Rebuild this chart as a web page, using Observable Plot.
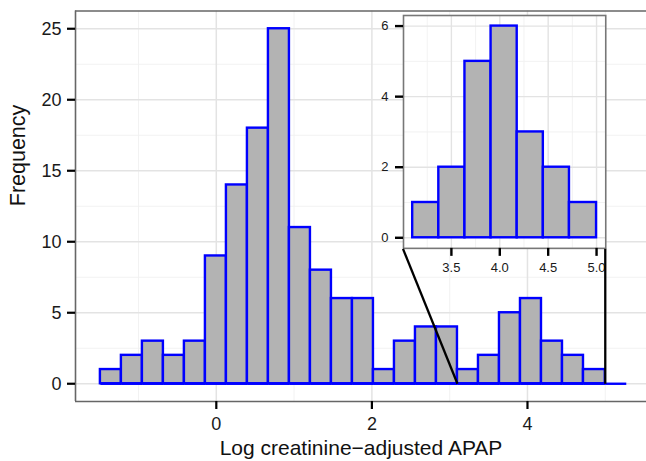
<!DOCTYPE html>
<html><head><meta charset="utf-8">
<script src="https://cdn.jsdelivr.net/npm/d3@7"></script>
<script src="https://cdn.jsdelivr.net/npm/@observablehq/plot@0.6"></script>
<style>
body{margin:0;background:#fff;}
#chart{position:relative;width:646px;height:461px;overflow:hidden;background:#fff;}
#chart svg{position:absolute;left:0;top:0;}
</style></head><body><div id="chart"></div>
<script>
// ---- data ----
const binEdges = [-1.49,-1.22,-0.95,-0.68,-0.41,-0.14,0.13,0.40,0.67,0.94,1.21,1.48,1.75,2.02,2.29,2.56,2.83,3.10,3.37,3.64,3.91,4.18,4.45,4.72,5.00,5.27];
const counts   = [1,2,3,2,3,9,14,18,25,11,8,6,6,1,3,4,4,1,2,5,6,3,2,1,0];
const xTicks = [0, 2, 4];
const xMinorTicks = [-1, 1, 3, 5];
const yTicks = [0, 5, 10, 15, 20, 25];
const yMinorTicks = [2.5, 7.5, 12.5, 17.5, 22.5];
const zoomRange = [3.10, 5.00];
const insetXTicks = [3.5, 4.0, 4.5, 5.0];
const insetXMinorTicks = [3.25, 3.75, 4.25, 4.75];
const insetYTicks = [0, 2, 4, 6];
const insetYMinorTicks = [1, 3, 5];
const insetXMin = 2.40, insetXMax = 5.00, insetYMin = 9.5, insetYMax = 25.9;
const xTitle = "Log creatinine\u2212adjusted APAP";
const yTitle = "Frequency";

// ---- build ----
const bins = counts.map((c, i) => ({x1: binEdges[i], x2: binEdges[i + 1], count: c}));
const insetBins = bins.filter(d => d.x1 >= zoomRange[0] - 1e-9 && d.x2 <= zoomRange[1] + 1e-9);
const connectors = [
  {x1: insetXMin, y1: insetYMin, x2: zoomRange[0], y2: 0},
  {x1: insetXMax, y1: insetYMin, x2: zoomRange[1], y2: 0}
];

const FONT = "'Liberation Sans', Arial, Helvetica, sans-serif";
const BLUE = "#0000ff", FILL = "#b3b3b3";
const GRID = "#e3e3e3", GRIDMINOR = "#f0f0f0";
const xDomain = [-1.81, 5.53], yDomain = [-1.25, 26.25];
const dims = {width: 646, height: 461, marginLeft: 75, marginRight: 0, marginTop: 10.5, marginBottom: 60};

const main = Plot.plot({
  ...dims,
  style: {fontFamily: FONT, background: "white"},
  x: {domain: xDomain},
  y: {domain: yDomain},
  marks: [
    Plot.ruleX(xMinorTicks, {stroke: GRIDMINOR, strokeWidth: 0.9}),
    Plot.ruleY(yMinorTicks, {stroke: GRIDMINOR, strokeWidth: 0.9}),
    Plot.ruleX(xTicks, {stroke: GRID, strokeWidth: 1.5}),
    Plot.ruleY(yTicks, {stroke: GRID, strokeWidth: 1.5}),
    Plot.rect(bins.filter(d => d.count > 0), {x1: "x1", x2: "x2", y1: d => 0, y2: "count", fill: FILL, stroke: BLUE, strokeWidth: 2.4}),
    Plot.link(bins, {x1: "x1", x2: "x2", y1: d => 0, y2: d => 0, stroke: BLUE, strokeWidth: 2.4}),
    Plot.ruleX([xDomain[0]], {stroke: "#666", strokeWidth: 1.6}),
    Plot.ruleY(yDomain, {stroke: "#666", strokeWidth: 1.6}),
    Plot.axisX(xTicks, {tickSize: 8, tickPadding: 8, strokeWidth: 2.2, stroke: "black", fill: "#1a1a1a", fontSize: 18, label: null}),
    Plot.axisY(yTicks, {tickSize: 8, tickPadding: 6, strokeWidth: 2.2, stroke: "black", fill: "#1a1a1a", fontSize: 18, label: null}),
    Plot.text([xTitle], {frameAnchor: "bottom", dy: 47, fontSize: 21, fill: "#111", lineAnchor: "middle"}),
    Plot.text([yTitle], {frameAnchor: "left", dx: -57, rotate: -90, fontSize: 21.5, fill: "#111", lineAnchor: "middle"})
  ]
});
const chart = document.getElementById("chart");
chart.appendChild(main);

// ---- inset ----
const xs = main.scale("x"), ys = main.scale("y");
const pL = xs.apply(insetXMin), pR = xs.apply(insetXMax);
const pT = ys.apply(insetYMax), pB = ys.apply(insetYMin);
const im = {marginLeft: 32, marginRight: 14, marginTop: 6, marginBottom: 32};
const inset = Plot.plot({
  ...im,
  width: pR - pL + im.marginLeft + im.marginRight,
  height: pB - pT + im.marginTop + im.marginBottom,
  style: {fontFamily: FONT, background: "transparent", overflow: "visible"},
  x: {domain: [3.005, 5.095]},
  y: {domain: [-0.3, 6.3]},
  marks: [
    Plot.frame({fill: "white", stroke: null}),
    Plot.ruleX(insetXMinorTicks, {stroke: GRIDMINOR, strokeWidth: 0.9}),
    Plot.ruleY(insetYMinorTicks, {stroke: GRIDMINOR, strokeWidth: 0.9}),
    Plot.ruleX(insetXTicks, {stroke: GRID, strokeWidth: 1.4}),
    Plot.ruleY(insetYTicks, {stroke: GRID, strokeWidth: 1.4}),
    Plot.rect(insetBins, {x1: "x1", x2: "x2", y1: d => 0, y2: "count", fill: FILL, stroke: BLUE, strokeWidth: 2.4}),
    Plot.frame({stroke: "#777", strokeWidth: 1.6}),
    Plot.axisX(insetXTicks, {tickSize: 8, tickPadding: 6, strokeWidth: 2.4, stroke: "black", fill: "#1a1a1a", fontSize: 13, tickFormat: d3.format(".1f"), label: null}),
    Plot.axisY(insetYTicks, {tickSize: 8, tickPadding: 7, strokeWidth: 2.4, stroke: "black", fill: "#1a1a1a", fontSize: 13, label: null})
  ]
});
inset.style.left = (pL - im.marginLeft) + "px";
inset.style.top = (pT - im.marginTop) + "px";
chart.appendChild(inset);

// ---- connector lines (drawn on top) ----
const overlay = Plot.plot({
  ...dims,
  style: {background: "transparent"},
  x: {domain: xDomain, axis: null},
  y: {domain: yDomain, axis: null},
  marks: [
    Plot.link(connectors, {x1: "x1", y1: "y1", x2: "x2", y2: "y2", stroke: "black", strokeWidth: 2.3})
  ]
});
chart.appendChild(overlay);
</script>
</body></html>
